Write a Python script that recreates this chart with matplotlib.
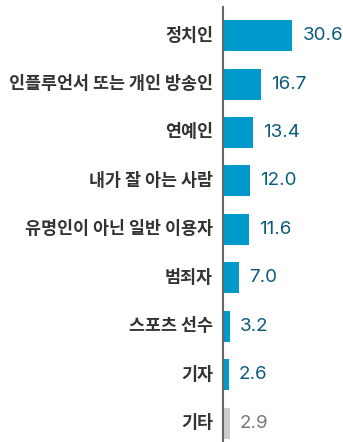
import matplotlib.pyplot as plt

categories = ['정치인', '인플루언서 또는 개인 방송인', '연예인', '내가 잘 아는 사람',
              '유명인이 아닌 일반 이용자', '범죄자', '스포츠 선수', '기자', '기타']
values = [30.6, 16.7, 13.4, 12.0, 11.6, 7.0, 3.2, 2.6, 2.9]

W, H = 343, 442
fig = plt.figure(figsize=(W / 100, H / 100), dpi=100)
ax = fig.add_axes([223 / W, 0, 1 - 223 / W, 1 - 7 / H])

colors = ['#0099cc'] * (len(values) - 1) + ['#cccccc']
text_colors = ['#0b5a7c'] * (len(values) - 1) + ['#777777']
ypos = range(len(values))
ax.barh(ypos, values, height=0.64, color=colors)

for y, v, tc in zip(ypos, values, text_colors):
    ax.text(v + 4.4, y, f'{v:.1f}', va='center', ha='left', color=tc,
            fontsize=13.5, family=['Inter', 'DejaVu Sans'])

for y, name in zip(ypos, categories):
    ax.text(-4.4, y, name, va='center', ha='right', color='#333333',
            fontsize=12.5, fontweight='bold', family=['Noto Sans CJK KR', 'DejaVu Sans'])

ax.set_xlim(0, 52.9)
ax.set_ylim(8.39, -0.59)
for s in ['top', 'right', 'bottom']:
    ax.spines[s].set_visible(False)
ax.spines['left'].set_color('#666666')
ax.spines['left'].set_linewidth(1.5)
ax.set_xticks([])
ax.set_yticks([])
ax.patch.set_alpha(0)

fig.savefig('out.png', dpi=100)
